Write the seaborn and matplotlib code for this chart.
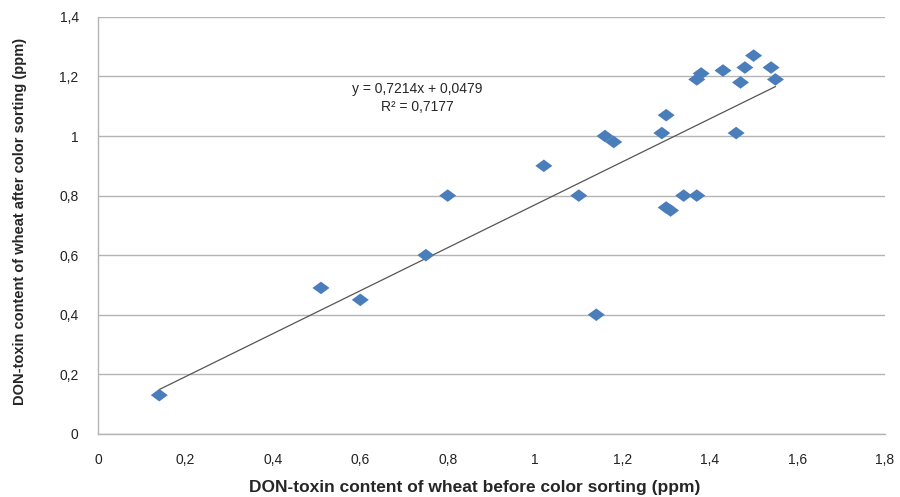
import numpy as np
import pandas as pd

import matplotlib
matplotlib.use('Agg')
import matplotlib.pyplot as plt
from matplotlib.ticker import FuncFormatter

import seaborn as sns


before = [0.14, 0.51, 0.60, 0.75, 0.80, 1.02, 1.10, 1.14, 1.16, 1.18,
          1.29, 1.30, 1.30, 1.31, 1.34, 1.37, 1.37, 1.38, 1.43, 1.46,
          1.47, 1.48, 1.50, 1.54, 1.55]
after = [0.13, 0.49, 0.45, 0.60, 0.80, 0.90, 0.80, 0.40, 1.00, 0.98,
         1.01, 1.07, 0.76, 0.75, 0.80, 0.80, 1.19, 1.21, 1.22, 1.01,
         1.18, 1.23, 1.27, 1.23, 1.19]
slope = 0.7214
intercept = 0.0479
r2 = 0.7177

df = pd.DataFrame({'before': before, 'after': after})

sns.set_style('white')
plt.rcParams['font.family'] = ['Liberation Sans', 'DejaVu Sans']

fig = plt.figure(figsize=(9, 4.97), dpi=100)
ax = fig.add_axes([0.109, 0.127, 0.874, 0.839])

# trend line over the data range
xs = np.array([min(before), max(before)])
ax.plot(xs, slope * xs + intercept, color='#555555', lw=0.9, zorder=2)

diamond = [(-1, 0), (0, 0.74), (1, 0), (0, -0.74), (-1, 0)]
sns.scatterplot(data=df, x='before', y='after', ax=ax, marker=diamond,
                s=150, color='#4a7ebb', edgecolor='none', zorder=3)

def comma(v, pos):
    s = ('%.1f' % v).rstrip('0').rstrip('.')
    return s.replace('.', ',')

ax.set_xlim(0, 1.8)
ax.set_ylim(0, 1.4)
ax.set_xticks(np.arange(0, 1.81, 0.2))
ax.set_yticks(np.arange(0, 1.41, 0.2))
ax.xaxis.set_major_formatter(FuncFormatter(comma))
ax.yaxis.set_major_formatter(FuncFormatter(comma))
ax.tick_params(axis='both', length=0, labelsize=10, colors='#222222')
ax.tick_params(axis='x', pad=14)
ax.tick_params(axis='y', pad=14)

ax.yaxis.grid(True, color='#b4b4b4', lw=1)
ax.set_axisbelow(True)
for side in ['top', 'right']:
    ax.spines[side].set_visible(False)
for side in ['left', 'bottom']:
    ax.spines[side].set_color('#b4b4b4')
    ax.spines[side].set_linewidth(1)

ax.text(0.73, 1.158, 'y = 0,7214x + 0,0479', ha='center', va='center', fontsize=10)
ax.text(0.73, 1.098, 'R² = 0,7177', ha='center', va='center', fontsize=10)

ax.set_xlabel('DON-toxin content of wheat before color sorting (ppm)',
              fontsize=12.5, fontweight='bold')
ax.set_ylabel('DON-toxin content of wheat after color sorting (ppm)',
              fontsize=10.5, fontweight='bold')
ax.xaxis.set_label_coords(0.479, -0.11)
ax.yaxis.set_label_coords(-0.091, 0.51)

fig.savefig('out.png', dpi=100)
